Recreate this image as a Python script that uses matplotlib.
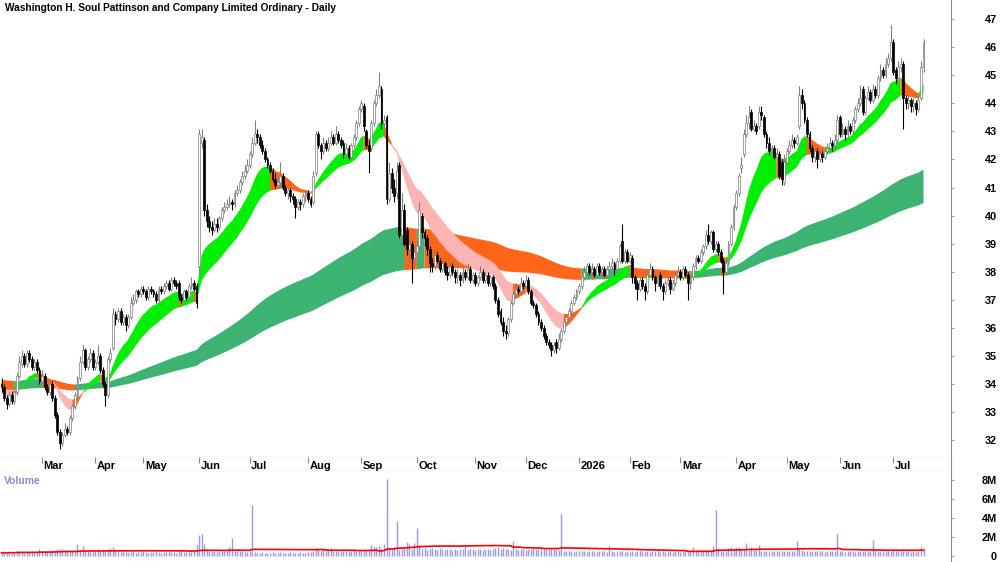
import numpy as np
import pandas as pd
import matplotlib
matplotlib.use("Agg")
import matplotlib.pyplot as plt
import matplotlib.transforms as mtransforms

plt.rcParams['font.family'] = ['Liberation Sans', 'DejaVu Sans']

title = "Washington H. Soul Pattinson and Company Limited Ordinary - Daily"
first_day = "2025-02-07"
asx_holidays = ["2025-04-18", "2025-04-21", "2025-04-25", "2025-06-09",
                "2025-12-25", "2025-12-26", "2026-01-01", "2026-01-26",
                "2026-04-03", "2026-04-06", "2026-06-08"]

opens = [
    34.0, 33.9, 33.5, 33.3, 33.6, 33.4, 33.7, 34.3, 34.7, 35.0,
    34.7, 35.1, 34.9, 34.6, 34.8, 34.5, 34.1, 34.3, 33.9, 33.7,
    34.0, 33.5, 32.9, 32.3, 31.9, 32.2, 32.4, 32.3, 32.8, 33.2,
    33.6, 34.2, 34.8, 35.2, 34.6, 34.9, 35.1, 34.6, 34.8, 35.0,
    34.5, 34.0, 33.6, 34.9, 35.3, 36.5, 36.3, 36.6, 36.2, 36.4,
    36.1, 36.4, 36.9, 37.0, 37.3, 37.2, 37.4, 37.3, 37.1, 37.4,
    37.3, 37.2, 37.0, 37.4, 37.3, 37.5, 37.6, 37.4, 37.7, 37.6,
    37.6, 37.1, 37.0, 37.3, 37.1, 37.5, 37.6, 37.5, 38.2, 42.6,
    42.7, 40.2, 39.8, 39.6, 39.5, 39.7, 39.6, 39.9, 40.2, 40.3,
    40.4, 40.5, 40.4, 40.8, 40.9, 41.2, 41.4, 41.6, 41.8, 42.2,
    42.6, 42.9, 42.8, 42.5, 42.3, 42.0, 41.8, 41.6, 41.3, 41.1,
    41.2, 41.4, 41.0, 40.8, 40.9, 40.7, 40.6, 40.3, 40.5, 40.4,
    40.7, 40.8, 40.6, 40.5, 41.5, 42.9, 42.5, 42.3, 42.6, 42.4,
    42.6, 42.8, 42.6, 42.9, 42.7, 42.6, 42.2, 42.4, 42.1, 42.5,
    42.8, 43.3, 43.8, 43.9, 43.0, 42.5, 42.4, 43.3, 44.0, 44.3,
    44.5, 43.3, 43.5, 40.6, 41.5, 41.0, 40.8, 41.8, 39.3, 40.2,
    39.5, 38.8, 39.0, 38.5, 38.7, 38.9, 40.0, 39.4, 39.2, 38.8,
    38.3, 38.2, 38.6, 38.4, 38.1, 38.3, 38.0, 37.9, 38.2, 38.0,
    37.8, 37.9, 37.7, 38.0, 37.8, 38.1, 37.7, 37.9, 37.6, 37.8,
    38.0, 37.7, 37.9, 37.6, 37.8, 37.5, 37.0, 36.6, 36.2, 35.9,
    35.8, 36.3, 36.9, 37.2, 37.4, 37.3, 37.6, 37.5, 37.7, 37.3,
    36.9, 36.8, 36.5, 36.2, 36.0, 35.7, 35.5, 35.4, 35.2, 35.5,
    35.3, 35.6, 35.9, 36.2, 36.4, 36.6, 36.9, 37.1, 37.3, 37.5,
    37.8, 38.0, 38.2, 38.0, 38.1, 37.9, 38.2, 38.0, 38.1, 37.9,
    38.1, 38.2, 38.3, 38.1, 38.4, 39.1, 38.4, 38.7, 38.4, 38.5,
    37.8, 37.6, 37.4, 37.7, 37.5, 37.3, 37.9, 38.1, 37.8, 37.6,
    37.9, 37.5, 37.3, 37.6, 37.7, 37.4, 37.6, 37.9, 38.0, 37.8,
    38.1, 37.9, 37.6, 37.8, 38.2, 38.5, 38.4, 38.7, 38.9, 39.3,
    39.1, 39.4, 38.8, 39.0, 38.7, 38.4, 38.0, 38.3, 39.0, 39.6,
    40.3, 40.8, 41.7, 42.2, 42.9, 43.3, 43.7, 43.1, 43.2, 43.2,
    43.7, 43.5, 42.9, 42.6, 42.3, 42.4, 42.1, 42.2, 41.9, 41.2,
    41.9, 42.3, 42.5, 42.7, 42.6, 43.2, 44.3, 44.0, 43.4, 42.9,
    42.4, 42.1, 42.3, 42.0, 42.2, 42.1, 42.3, 42.4, 42.6, 42.5,
    42.7, 43.5, 42.9, 43.1, 42.9, 43.2, 43.0, 43.4, 43.8, 44.0,
    44.5, 43.7, 44.2, 44.4, 44.1, 44.5, 44.3, 44.9, 45.2, 45.0,
    45.4, 45.6, 46.2, 45.2, 44.9, 45.3, 45.4, 44.2, 44.0, 44.1,
    43.9, 44.0, 43.8, 44.2, 45.3]

highs = [
    34.2, 34.0, 33.6, 33.7, 33.7, 33.8, 34.4, 35.0, 35.2, 35.1,
    35.2, 35.2, 35.0, 34.9, 34.9, 34.6, 34.5, 34.4, 34.0, 34.1,
    34.1, 33.6, 33.0, 32.4, 32.3, 32.6, 32.5, 32.9, 33.3, 33.7,
    34.3, 35.0, 35.4, 35.3, 35.0, 35.3, 35.2, 34.9, 35.4, 35.1,
    34.6, 34.1, 35.0, 35.3, 36.7, 36.6, 36.7, 36.7, 36.5, 36.5,
    36.5, 37.1, 37.2, 37.4, 37.4, 37.5, 37.5, 37.4, 37.5, 37.5,
    37.4, 37.3, 37.5, 37.5, 37.6, 37.7, 37.7, 37.8, 37.8, 37.7,
    37.7, 37.2, 37.4, 37.4, 37.6, 37.8, 37.7, 37.6, 43.1, 43.1,
    42.8, 40.4, 40.0, 39.8, 39.9, 39.9, 40.0, 40.3, 40.5, 40.6,
    40.7, 40.6, 40.9, 41.1, 41.3, 41.6, 41.8, 42.0, 42.3, 42.8,
    43.4, 43.1, 42.9, 42.7, 42.4, 42.1, 41.9, 41.7, 41.5, 41.4,
    41.9, 41.5, 41.1, 41.0, 41.0, 40.8, 40.7, 40.6, 40.6, 40.8,
    40.9, 40.9, 40.7, 41.6, 43.0, 43.0, 42.6, 42.8, 42.7, 42.8,
    43.0, 42.9, 43.2, 43.0, 42.8, 42.7, 42.6, 42.5, 42.6, 42.9,
    43.4, 43.9, 44.1, 44.0, 43.1, 42.7, 43.4, 44.1, 44.5, 45.1,
    44.6, 43.6, 43.6, 41.9, 41.7, 41.3, 41.9, 41.9, 40.8, 40.4,
    39.6, 39.2, 39.1, 38.9, 39.1, 40.5, 40.1, 39.5, 39.3, 38.9,
    38.5, 38.8, 38.7, 38.5, 38.4, 38.4, 38.2, 38.4, 38.3, 38.1,
    38.1, 38.0, 38.2, 38.1, 38.3, 38.2, 38.0, 38.0, 37.9, 38.2,
    38.1, 38.0, 38.0, 37.9, 37.9, 37.6, 37.1, 36.7, 36.4, 36.1,
    36.4, 37.0, 37.3, 37.6, 37.5, 37.8, 37.7, 37.9, 37.8, 37.4,
    37.0, 36.9, 36.6, 36.3, 36.1, 35.8, 35.6, 35.5, 35.5, 35.6,
    35.8, 36.0, 36.3, 36.5, 36.7, 37.0, 37.2, 37.4, 37.6, 37.9,
    38.2, 38.3, 38.3, 38.3, 38.2, 38.3, 38.3, 38.2, 38.2, 38.2,
    38.4, 38.5, 38.4, 38.5, 39.0, 39.7, 38.8, 38.8, 38.7, 38.6,
    37.9, 37.7, 37.8, 37.8, 37.6, 38.0, 38.3, 38.2, 37.9, 38.0,
    38.0, 37.6, 37.7, 37.9, 37.8, 37.7, 38.0, 38.2, 38.1, 38.2,
    38.2, 38.0, 37.9, 38.3, 38.6, 38.6, 38.8, 39.0, 39.5, 39.7,
    39.5, 39.5, 39.1, 39.1, 38.8, 38.5, 38.4, 39.1, 39.7, 40.4,
    40.9, 41.5, 42.1, 43.1, 43.6, 43.9, 43.8, 43.4, 43.3, 43.9,
    43.9, 43.6, 43.0, 42.8, 42.5, 42.5, 42.4, 42.3, 42.0, 42.2,
    42.4, 42.7, 42.9, 42.8, 42.9, 44.6, 44.5, 44.1, 43.5, 43.0,
    42.5, 42.4, 42.4, 42.3, 42.3, 42.4, 42.6, 42.8, 42.7, 42.9,
    43.6, 43.6, 43.3, 43.2, 43.4, 43.3, 43.5, 43.9, 44.2, 44.65,
    44.6, 44.3, 44.6, 44.5, 44.7, 44.6, 45.0, 45.4, 45.3, 45.6,
    45.8, 46.8, 46.3, 45.3, 45.5, 45.6, 45.5, 44.3, 44.3, 44.2,
    44.2, 44.1, 44.3, 45.5, 46.3]

lows = [
    33.7, 33.4, 33.1, 33.2, 33.3, 33.3, 33.6, 34.2, 34.6, 34.6,
    34.6, 34.8, 34.5, 34.5, 34.4, 34.0, 34.0, 33.8, 33.6, 33.6,
    33.4, 32.8, 32.2, 31.7, 31.8, 32.1, 32.2, 32.2, 32.7, 33.1,
    33.5, 34.1, 34.7, 34.5, 34.5, 34.8, 34.5, 34.5, 34.7, 34.4,
    33.9, 33.2, 33.5, 34.8, 35.2, 36.1, 36.2, 36.1, 36.1, 35.9,
    36.0, 36.3, 36.8, 36.9, 37.1, 37.1, 37.2, 37.0, 37.0, 37.2,
    37.1, 36.9, 36.9, 37.2, 37.2, 37.4, 37.3, 37.3, 37.5, 37.4,
    37.0, 36.9, 36.9, 37.0, 37.0, 37.4, 37.3, 36.7, 37.9, 42.4,
    40.0, 39.6, 39.4, 39.3, 39.4, 39.4, 39.5, 39.8, 40.1, 40.2,
    40.3, 40.2, 40.3, 40.7, 40.8, 41.1, 41.3, 41.5, 41.7, 42.1,
    42.5, 42.6, 42.4, 42.2, 41.9, 41.7, 41.5, 41.2, 41.0, 41.0,
    41.0, 40.9, 40.7, 40.6, 40.5, 40.4, 39.9, 40.2, 40.2, 40.3,
    40.5, 40.5, 40.3, 40.4, 41.4, 42.4, 42.0, 42.2, 42.3, 42.3,
    42.5, 42.5, 42.5, 42.6, 42.4, 42.0, 42.1, 42.0, 42.0, 42.4,
    42.7, 43.2, 43.7, 43.0, 42.4, 41.5, 42.3, 43.2, 43.9, 44.2,
    43.1, 43.1, 40.4, 40.5, 40.8, 40.5, 40.6, 39.2, 39.1, 38.9,
    38.6, 38.4, 37.6, 38.3, 38.6, 38.8, 39.2, 38.9, 38.6, 38.0,
    38.0, 38.1, 38.3, 38.0, 38.0, 37.9, 37.7, 37.8, 37.9, 37.6,
    37.6, 37.5, 37.6, 37.7, 37.7, 37.6, 37.6, 37.5, 37.5, 37.7,
    37.6, 37.6, 37.5, 37.5, 37.4, 36.9, 36.4, 36.1, 35.7, 35.6,
    35.7, 36.2, 36.8, 37.1, 37.2, 37.2, 37.4, 37.4, 37.2, 36.8,
    36.7, 36.4, 36.1, 35.9, 35.6, 35.4, 35.3, 35.0, 35.1, 35.1,
    35.2, 35.5, 35.8, 36.1, 36.3, 36.5, 36.8, 37.0, 37.2, 37.4,
    37.7, 37.9, 37.9, 37.9, 37.8, 37.8, 37.9, 37.9, 37.8, 37.8,
    38.0, 38.1, 37.9, 38.0, 38.3, 38.3, 38.3, 38.3, 38.3, 37.6,
    37.4, 37.0, 37.3, 37.4, 37.0, 37.2, 37.8, 37.7, 37.3, 37.5,
    37.4, 37.0, 37.2, 37.5, 37.2, 37.3, 37.5, 37.8, 37.7, 37.7,
    37.8, 37.0, 37.4, 37.7, 38.1, 38.3, 38.3, 38.6, 38.8, 39.0,
    39.0, 38.7, 38.7, 38.6, 38.3, 37.2, 37.9, 38.2, 38.9, 39.5,
    40.2, 40.7, 41.5, 42.1, 42.8, 43.1, 43.0, 43.0, 42.9, 43.1,
    43.4, 42.8, 42.4, 42.2, 42.1, 42.0, 42.0, 41.3, 41.1, 41.1,
    41.8, 42.2, 42.4, 42.4, 42.5, 43.1, 43.8, 43.3, 42.8, 42.3,
    41.9, 41.9, 41.7, 41.9, 41.9, 42.0, 42.2, 42.3, 42.3, 42.4,
    42.6, 42.8, 42.8, 42.7, 42.8, 42.9, 42.9, 43.3, 43.7, 43.9,
    43.6, 43.6, 44.1, 44.0, 44.0, 44.2, 44.2, 44.8, 44.9, 44.9,
    45.3, 45.5, 45.0, 44.7, 44.8, 45.1, 43.1, 43.8, 43.8, 43.7,
    43.7, 43.6, 43.7, 44.1, 45.1]

closes = [
    33.9, 33.5, 33.3, 33.6, 33.4, 33.7, 34.3, 34.8, 35.0, 34.7,
    35.1, 34.9, 34.6, 34.8, 34.5, 34.1, 34.3, 33.9, 33.7, 34.0,
    33.5, 32.9, 32.3, 31.9, 32.2, 32.4, 32.3, 32.8, 33.2, 33.6,
    34.2, 34.8, 35.2, 34.6, 34.9, 35.1, 34.6, 34.8, 35.0, 34.5,
    34.0, 33.6, 34.9, 35.1, 36.5, 36.3, 36.6, 36.2, 36.4, 36.1,
    36.4, 36.9, 37.0, 37.3, 37.2, 37.4, 37.3, 37.1, 37.4, 37.3,
    37.2, 37.0, 37.4, 37.3, 37.5, 37.6, 37.4, 37.7, 37.6, 37.5,
    37.1, 37.0, 37.3, 37.1, 37.5, 37.6, 37.4, 36.9, 42.9, 42.8,
    40.2, 39.8, 39.6, 39.5, 39.7, 39.6, 39.9, 40.2, 40.3, 40.4,
    40.5, 40.4, 40.8, 40.9, 41.2, 41.4, 41.6, 41.8, 42.2, 42.6,
    42.9, 42.8, 42.5, 42.3, 42.0, 41.8, 41.6, 41.3, 41.1, 41.2,
    41.4, 41.0, 40.8, 40.9, 40.7, 40.6, 40.3, 40.5, 40.4, 40.7,
    40.8, 40.6, 40.4, 41.4, 42.9, 42.5, 42.3, 42.6, 42.4, 42.6,
    42.8, 42.6, 42.9, 42.7, 42.5, 42.2, 42.4, 42.1, 42.5, 42.8,
    43.3, 43.8, 44.0, 43.2, 42.5, 42.3, 43.3, 44.0, 44.3, 44.6,
    43.3, 43.4, 40.6, 41.5, 41.0, 40.7, 41.6, 39.3, 40.2, 39.0,
    38.8, 39.0, 38.5, 38.7, 38.9, 40.2, 39.4, 39.2, 38.8, 38.3,
    38.2, 38.6, 38.4, 38.1, 38.3, 38.0, 37.9, 38.2, 38.0, 37.8,
    37.9, 37.7, 38.0, 37.8, 38.1, 37.7, 37.9, 37.6, 37.8, 38.0,
    37.7, 37.9, 37.6, 37.8, 37.5, 37.0, 36.5, 36.2, 35.9, 35.8,
    36.3, 36.9, 37.2, 37.4, 37.3, 37.6, 37.5, 37.7, 37.3, 36.9,
    36.8, 36.5, 36.2, 36.0, 35.7, 35.5, 35.4, 35.2, 35.4, 35.3,
    35.6, 35.9, 36.2, 36.4, 36.6, 36.9, 37.1, 37.3, 37.5, 37.8,
    38.0, 38.2, 38.0, 38.1, 37.9, 38.2, 38.0, 38.1, 37.9, 38.1,
    38.2, 38.3, 38.1, 38.4, 38.9, 38.4, 38.7, 38.4, 38.6, 37.8,
    37.6, 37.4, 37.7, 37.5, 37.3, 37.9, 38.1, 37.8, 37.6, 37.9,
    37.5, 37.3, 37.6, 37.7, 37.4, 37.6, 37.9, 38.0, 37.8, 38.1,
    37.9, 37.6, 37.8, 38.2, 38.5, 38.4, 38.7, 38.9, 39.3, 39.1,
    39.4, 38.8, 39.0, 38.7, 38.4, 38.0, 38.3, 39.0, 39.6, 40.3,
    40.8, 41.4, 41.8, 42.9, 43.3, 43.5, 43.1, 43.2, 43.0, 43.7,
    43.6, 42.9, 42.6, 42.3, 42.4, 42.1, 42.2, 41.4, 41.3, 41.9,
    42.3, 42.5, 42.7, 42.6, 42.8, 44.3, 44.0, 43.4, 42.9, 42.4,
    42.1, 42.3, 42.0, 42.2, 42.1, 42.3, 42.4, 42.6, 42.5, 42.7,
    43.4, 42.9, 43.1, 42.9, 43.2, 43.0, 43.4, 43.8, 44.0, 44.2,
    43.7, 44.2, 44.4, 44.1, 44.5, 44.3, 44.9, 45.2, 45.0, 45.4,
    45.6, 46.2, 45.1, 44.9, 45.3, 45.4, 44.2, 44.0, 44.1, 43.9,
    44.0, 43.8, 44.1, 45.3, 46.2]

volume_m = [
    0.35, 0.4, 0.3, 0.45, 0.35, 0.4, 0.5, 0.45, 0.4, 0.35,
    0.4, 0.45, 0.5, 0.35, 0.4, 0.8, 0.45, 0.5, 0.55, 0.4,
    0.5, 0.6, 0.8, 0.75, 0.8, 0.6, 0.5, 0.45, 0.55, 0.6,
    1.3, 0.7, 1.1, 0.6, 0.5, 0.55, 0.45, 0.5, 0.8, 0.6,
    0.55, 0.6, 0.8, 0.85, 1.0, 0.7, 0.5, 0.45, 0.5, 0.4,
    0.45, 0.4, 0.5, 0.35, 0.45, 0.4, 0.5, 0.45, 0.35, 0.4,
    0.45, 0.5, 0.4, 0.35, 0.45, 0.4, 0.5, 0.4, 0.45, 0.35,
    0.5, 0.7, 0.45, 0.4, 0.5, 0.45, 0.55, 1.2, 2.2, 2.3,
    1.3, 0.8, 0.6, 0.5, 0.55, 0.45, 0.5, 0.6, 0.55, 0.5,
    1.0, 1.9, 0.6, 0.5, 0.55, 0.6, 0.5, 0.45, 0.6, 5.3,
    0.4, 0.35, 0.3, 0.4, 0.35, 0.3, 0.35, 0.4, 0.3, 0.35,
    0.4, 0.3, 0.35, 0.3, 0.4, 0.35, 0.3, 0.35, 0.4, 0.3,
    0.35, 0.4, 0.45, 0.6, 0.85, 0.8, 0.7, 0.9, 0.75, 0.8,
    0.85, 0.6, 0.5, 0.55, 0.5, 0.6, 0.55, 0.5, 0.6, 0.65,
    0.6, 0.55, 0.6, 0.7, 0.65, 0.8, 1.2, 1.0, 1.0, 1.05,
    0.9, 1.3, 8.1, 1.0, 0.8, 0.9, 3.7, 0.7, 0.8, 0.9,
    1.5, 1.3, 0.8, 1.4, 2.9, 1.2, 0.8, 0.9, 0.7, 0.75,
    0.9, 0.8, 0.7, 0.85, 0.8, 0.7, 0.8, 0.75, 0.7, 0.8,
    0.7, 0.75, 0.8, 1.2, 0.7, 0.8, 0.75, 0.7, 0.8, 0.75,
    0.7, 0.8, 0.75, 0.7, 0.8, 0.9, 1.0, 0.8, 0.85, 0.75,
    0.8, 0.7, 1.6, 0.8, 0.7, 0.75, 0.8, 0.7, 0.75, 0.8,
    0.85, 0.8, 0.75, 0.8, 0.9, 0.85, 0.8, 0.9, 0.75, 0.8,
    0.7, 4.4, 0.6, 0.5, 0.55, 0.5, 0.45, 0.5, 0.55, 0.5,
    0.5, 0.45, 0.5, 0.55, 0.5, 0.45, 0.5, 0.55, 0.5, 0.45,
    1.1, 0.5, 0.45, 0.5, 0.55, 0.5, 0.45, 0.5, 0.45, 0.5,
    0.45, 0.5, 0.55, 0.5, 0.45, 0.5, 0.45, 0.5, 0.55, 0.5,
    0.45, 0.5, 0.45, 0.55, 0.5, 0.45, 0.5, 0.55, 0.45, 0.5,
    0.5, 0.45, 0.6, 1.0, 0.5, 0.45, 0.5, 0.55, 0.6, 0.55,
    0.6, 1.1, 4.8, 0.9, 0.6, 0.55, 0.6, 0.9, 1.0, 0.9,
    0.95, 1.0, 0.7, 0.8, 1.4, 0.7, 1.0, 0.65, 0.7, 1.2,
    0.6, 0.55, 0.6, 0.5, 0.55, 0.6, 0.5, 0.55, 0.6, 0.5,
    0.55, 0.6, 0.5, 0.55, 1.6, 0.8, 0.7, 0.6, 0.55, 0.5,
    0.55, 0.5, 0.6, 0.55, 0.5, 0.45, 0.5, 0.55, 0.5, 0.6,
    2.3, 0.55, 0.5, 0.45, 0.5, 0.55, 0.5, 0.45, 0.5, 0.55,
    0.6, 0.55, 0.5, 0.6, 1.7, 0.7, 0.6, 0.55, 0.6, 0.5,
    0.55, 0.6, 0.7, 0.5, 0.55, 0.5, 0.6, 0.55, 0.5, 0.45,
    0.5, 0.45, 0.5, 1.0, 0.9]

short_periods = [15, 18, 21, 24, 27, 30]
short_seed = [33.60, 33.65, 33.70, 33.75, 33.80, 33.85]
long_periods = [150, 165, 180, 200, 225, 250]
long_seed = [34.15, 34.08, 34.00, 33.93, 33.86, 33.80]

price_ticks = list(range(32, 48))
volume_ticks = [0, 2, 4, 6, 8]
volume_labels = ["0", "2M", "4M", "6M", "8M"]


def ema(values, period, seed):
    out = np.empty(len(values))
    e = seed
    a = 2.0 / (period + 1)
    for i, v in enumerate(values):
        e = e + a * (v - e)
        out[i] = e
    return out


def ribbon_codes(emas):
    # 0: ordered and rising, 1: inverted and falling, 2: mixed
    mean = emas.mean(0)
    rising = np.r_[True, np.diff(mean) >= 0]
    ordered = emas[0] > emas[-1]
    return np.where(ordered & rising, 0, np.where(~ordered & ~rising, 1, 2))


def fill_ribbon(ax, x, top, bot, codes, colors, z):
    for code, col in colors.items():
        m = codes == code
        m = m | np.r_[m[1:], False]
        ax.fill_between(x, bot, top, where=m, color=col, lw=0, zorder=z)


o = np.array(opens)
h = np.array(highs)
lo = np.array(lows)
c = np.array(closes)
vol = np.array(volume_m)
n = len(c)
x = np.arange(n)

dates = pd.bdate_range(first_day, periods=n, freq='C', holidays=asx_holidays)
month_idx = [i for i in range(1, n) if dates[i].month != dates[i - 1].month]
month_lab = ['2026' if dates[i].month == 1 else dates[i].strftime('%b') for i in month_idx]

s = np.array([ema(c, p, sd) for p, sd in zip(short_periods, short_seed)])
lg = np.array([ema(c, p, sd) for p, sd in zip(long_periods, long_seed)])
s_code = ribbon_codes(s)
l_code = ribbon_codes(lg)

W, H = 1000, 562
fig = plt.figure(figsize=(10, 5.62), dpi=100)


def rect(top, bottom):
    return [0, 1 - bottom / H, 951 / W, (bottom - top) / H]


ax = fig.add_axes(rect(0, 457))
strip = fig.add_axes(rect(457, 471))
axv = fig.add_axes(rect(471, 562))

xlim = (-1.5 / 2.533, (951 - 1.5) / 2.533)
grey = '#8c8c8c'

# price panel
fill_ribbon(ax, x, lg.max(0), lg.min(0), l_code,
            {0: '#3cb371', 1: '#ff661a', 2: '#ff661a'}, 1)
fill_ribbon(ax, x, s.max(0), s.min(0), s_code,
            {0: '#00ee00', 1: '#ffb4b4', 2: '#ff661a'}, 2)

up = c >= o
ax.vlines(x[up], lo[up], h[up], colors='#808080', lw=0.8, zorder=3)
ax.vlines(x[~up], lo[~up], h[~up], colors='black', lw=0.8, zorder=3)
body = np.maximum(np.abs(c - o), 0.03)
ax.bar(x[up], body[up], bottom=np.minimum(o, c)[up], width=0.75,
       color='white', edgecolor='#808080', lw=0.5, zorder=4)
ax.bar(x[~up], body[~up], bottom=np.minimum(o, c)[~up], width=0.75,
       color='black', edgecolor='black', lw=0.5, zorder=4)

ax.set_xlim(*xlim)
ax.set_ylim(31.40, 47.68)
ax.set_xticks([])
ax.yaxis.tick_right()
ax.set_yticks(price_ticks)
ax.set_yticklabels([str(t) for t in price_ticks])
ax.tick_params(axis='y', length=2, width=0.6, color=grey, pad=31, labelsize=7.8)
for lab in ax.get_yticklabels():
    lab.set_horizontalalignment('right')
    lab.set_fontweight('bold')
for side in ['top', 'left']:
    ax.spines[side].set_visible(False)
for side in ['bottom', 'right']:
    ax.spines[side].set_color(grey)
    ax.spines[side].set_linewidth(0.8)

# month strip
strip.set_xlim(*xlim)
strip.set_ylim(0, 1)
strip.set_yticks([])
strip.set_xticks(month_idx)
strip.tick_params(axis='x', direction='in', length=4, width=0.8, color=grey,
                  bottom=False, top=True, labelbottom=False)
trans = mtransforms.blended_transform_factory(strip.transData, strip.transAxes)
for i, lab in zip(month_idx, month_lab):
    strip.text(i + 0.6, 0.38, lab, transform=trans, ha='left', va='center',
               fontsize=8, fontweight='bold')
strip.spines['left'].set_visible(False)
strip.spines['top'].set_visible(False)
for side in ['bottom', 'right']:
    strip.spines[side].set_color(grey)
    strip.spines[side].set_linewidth(0.8)

# volume panel
vol_ma = pd.Series(vol).rolling(50, min_periods=1).mean()
axv.vlines(x, 0, vol, colors='#9b9be0', lw=1.0, zorder=2)
axv.plot(x, vol_ma, color='#ff0000', lw=1.2, zorder=3)
axv.set_xlim(*xlim)
axv.set_ylim(-0.6, 8.9)
axv.set_xticks([])
axv.yaxis.tick_right()
axv.set_yticks(volume_ticks)
axv.set_yticklabels(volume_labels)
axv.tick_params(axis='y', length=2, width=0.6, color=grey, pad=31, labelsize=7.8)
for lab in axv.get_yticklabels():
    lab.set_horizontalalignment('right')
    lab.set_fontweight('bold')
for side in ['top', 'left', 'bottom']:
    axv.spines[side].set_visible(False)
axv.spines['right'].set_color(grey)
axv.spines['right'].set_linewidth(0.8)

fig.text(5 / W, 1 - 8 / H, title, fontsize=7.3, fontweight='bold', va='center')
fig.text(4 / W, 1 - 481 / H, "Volume", fontsize=7.5, fontweight='bold',
         color='#8c8cc8', va='center')

fig.savefig("out.png", dpi=100)
